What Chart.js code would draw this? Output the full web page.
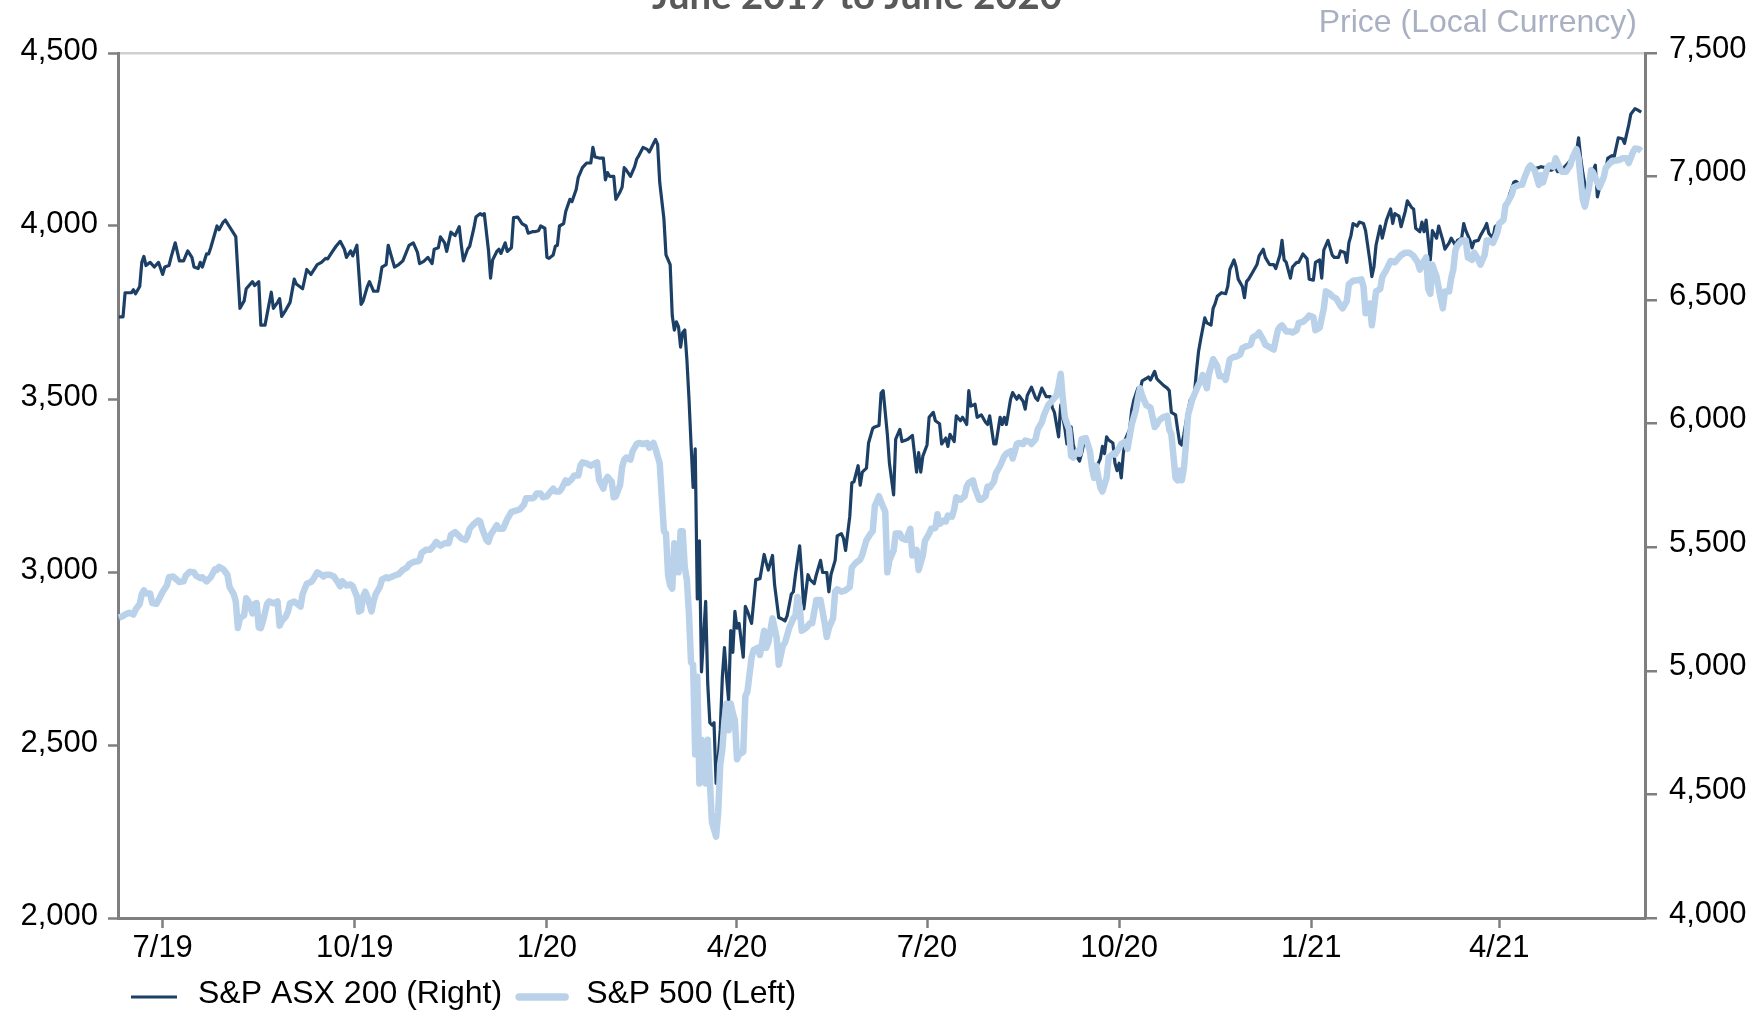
<!DOCTYPE html>
<html>
<head>
<meta charset="utf-8">
<script src="https://cdn.jsdelivr.net/npm/chart.js@4.4.1/dist/chart.umd.min.js"></script>
<style>
  html, body { margin: 0; padding: 0; background: #fff; }
  #wrap { width: 1759px; height: 1010px; }
</style>
</head>
<body>
<div id="wrap"><canvas id="chart" width="1759" height="1010"></canvas></div>
<script>
const title = 'June 2019 to June 2020'
const unitsLabel = 'Price (Local Currency)'

// x values are days counted from startDate
const startDate = '2019-07-01'
const tickDates = ['2019-07-01', '2019-10-01', '2020-01-01', '2020-04-01', '2020-07-01', '2020-10-01', '2021-01-01', '2021-04-01']
const tickLabels = ['7/19', '10/19', '1/20', '4/20', '7/20', '10/20', '1/21', '4/21']

const asxLabel = 'S&P ASX 200 (Right)'
const asxDays = [
  -21, -19, -18, -15, -14, -13, -11, -10, -9, -8, -6, -4, -2, 0, 1, 3, 4, 6, 8, 10,
  12, 14, 15, 17, 18, 19, 21, 22, 23, 26, 27, 29, 30, 32, 35, 37, 39, 40, 43, 44,
  46, 47, 49, 52, 53, 55, 56, 57, 59, 61, 63, 64, 67, 69, 71, 74, 76, 78, 79, 81,
  83, 85, 87, 88, 90, 91, 93, 95, 96, 98, 99, 101, 103, 104, 105, 107, 108, 110, 111, 113,
  115, 118, 120, 122, 123, 125, 127, 129, 130, 132, 133, 135, 136, 138, 140, 142, 143, 144, 146, 147,
  149, 150, 152, 153, 154, 156, 157, 158, 160, 161, 162, 164, 165, 167, 168, 170, 171, 172, 174, 175,
  177, 178, 180, 181, 183, 184, 185, 187, 188, 189, 190, 192, 193, 195, 196, 198, 199, 201, 203, 205,
  206, 207, 209, 211, 212, 213, 214, 216, 217, 219, 220, 221, 222, 224, 226, 227, 228, 230, 232, 233,
  235, 236, 237, 238, 240, 241, 243, 244, 245, 246, 247, 248, 249, 250, 251, 252, 253, 254, 255, 256,
  257, 258, 260, 261, 262, 263, 264, 265, 266, 267, 268, 269, 270, 271, 272, 273, 274, 275, 276, 278,
  279, 280, 282, 284, 286, 288, 289, 290, 292, 293, 295, 296, 298, 299, 301, 302, 303, 305, 306, 307,
  309, 310, 312, 313, 315, 316, 318, 319, 320, 322, 323, 325, 326, 327, 329, 330, 331, 333, 334, 335,
  337, 338, 340, 341, 343, 344, 345, 347, 348, 350, 351, 353, 354, 356, 357, 359, 361, 362, 363, 364,
  366, 367, 369, 370, 372, 373, 375, 376, 377, 379, 380, 382, 383, 385, 386, 387, 389, 390, 392, 394,
  395, 396, 398, 399, 401, 402, 403, 404, 406, 407, 409, 410, 412, 413, 414, 416, 418, 419, 421, 423,
  425, 426, 427, 429, 430, 432, 433, 434, 435, 436, 437, 439, 440, 441, 442, 444, 445, 447, 449, 450,
  451, 452, 453, 455, 456, 457, 458, 459, 460, 461, 463, 464, 465, 467, 468, 469, 471, 472, 473, 475,
  476, 477, 479, 481, 482, 483, 485, 486, 487, 488, 489, 491, 492, 494, 495, 496, 497, 499, 500, 502,
  503, 504, 505, 507, 509, 510, 511, 513, 514, 515, 517, 518, 519, 520, 522, 524, 525, 527, 528, 530,
  532, 533, 535, 536, 537, 538, 540, 541, 543, 544, 546, 548, 549, 551, 552, 554, 555, 556, 558, 560,
  561, 563, 564, 566, 567, 568, 569, 570, 572, 573, 575, 576, 578, 579, 580, 581, 583, 584, 586, 588,
  589, 590, 592, 593, 595, 596, 598, 599, 600, 602, 603, 604, 605, 607, 608, 610, 611, 613, 614, 616,
  617, 619, 620, 622, 623, 624, 626, 627, 628, 630, 631, 633, 634, 635, 637, 638, 640, 642, 643, 645,
  647, 648, 650, 651, 652, 654, 655, 657, 659, 660, 662, 663, 665, 667, 668, 670, 671, 673, 675, 677,
  678, 679, 680, 682, 683, 685, 686, 687, 689, 691, 692, 694, 695, 697, 699, 700, 702, 703, 705, 706,
  708
]
const asxValues = [
  6432, 6432, 6530, 6530, 6542, 6526, 6555, 6653, 6677, 6640, 6653, 6634, 6653, 6604, 6634, 6640, 6673, 6732, 6659, 6659,
  6699, 6673, 6634, 6628, 6653, 6634, 6687, 6687, 6712, 6800, 6785, 6816, 6824, 6797, 6757, 6467, 6497, 6546, 6575, 6559,
  6575, 6399, 6399, 6532, 6467, 6491, 6506, 6434, 6461, 6491, 6585, 6565, 6546, 6624, 6604, 6644, 6653, 6669, 6667, 6693,
  6718, 6738, 6706, 6673, 6699, 6679, 6722, 6483, 6497, 6555, 6575, 6536, 6536, 6581, 6634, 6644, 6722, 6663, 6634, 6644,
  6659, 6722, 6732, 6693, 6648, 6657, 6673, 6648, 6706, 6712, 6756, 6732, 6697, 6775, 6761, 6797, 6722, 6659, 6706, 6718,
  6791, 6836, 6850, 6844, 6850, 6702, 6589, 6663, 6697, 6706, 6689, 6732, 6697, 6712, 6834, 6836, 6824, 6810, 6800, 6771,
  6777, 6777, 6781, 6800, 6791, 6673, 6669, 6683, 6718, 6722, 6800, 6810, 6859, 6908, 6899, 6948, 6997, 7036, 7055, 7055,
  7118, 7079, 7075, 7075, 6987, 7016, 7001, 7001, 6908, 6938, 6957, 7036, 7026, 7001, 7040, 7071, 7085, 7118, 7110, 7099,
  7134, 7150, 7130, 6977, 6830, 6683, 6644, 6438, 6379, 6412, 6393, 6310, 6369, 6379, 6261, 6104, 5918, 5742, 5898, 5291,
  5526, 4996, 5281, 4947, 4790, 4781, 4790, 4545, 4643, 4761, 4977, 5094, 4977, 4879, 5163, 5075, 5241, 5173, 5192, 5055,
  5261, 5242, 5192, 5369, 5373, 5471, 5438, 5408, 5467, 5349, 5216, 5212, 5202, 5222, 5310, 5320, 5389, 5506, 5389, 5251,
  5389, 5369, 5353, 5389, 5447, 5398, 5398, 5320, 5389, 5447, 5546, 5555, 5536, 5487, 5624, 5761, 5765, 5830, 5751, 5804,
  5820, 5922, 5981, 5987, 5993, 6124, 6134, 5957, 5840, 5712, 5938, 5977, 5928, 5934, 5938, 5953, 5804, 5883, 5804, 5869,
  5914, 6026, 6046, 6012, 6000, 5918, 5942, 5908, 5957, 5928, 6032, 6012, 6026, 5997, 6134, 6071, 6079, 6026, 6036, 6006,
  5997, 6032, 5918, 5918, 6026, 5997, 6026, 5997, 6099, 6126, 6099, 6114, 6091, 6059, 6114, 6148, 6104, 6095, 6144, 6110,
  6110, 6065, 6046, 5947, 6075, 5981, 5918, 5977, 5987, 5918, 5879, 5849, 5879, 5918, 5942, 5898, 5840, 5820, 5859, 5908,
  5879, 5947, 5934, 5922, 5840, 5810, 5840, 5781, 5879, 5938, 5977, 6055, 6095, 6144, 6134, 6173, 6183, 6189, 6177, 6212,
  6183, 6173, 6157, 6144, 6134, 6046, 6036, 5977, 5922, 5914, 5957, 6055, 6095, 6118, 6212, 6291, 6340, 6428, 6408, 6399,
  6467, 6487, 6516, 6530, 6526, 6555, 6624, 6663, 6634, 6585, 6555, 6510, 6575, 6585, 6614, 6644, 6679, 6706, 6673, 6644,
  6644, 6628, 6683, 6742, 6663, 6653, 6589, 6634, 6653, 6653, 6687, 6667, 6585, 6581, 6653, 6663, 6589, 6702, 6742, 6683,
  6673, 6673, 6699, 6693, 6653, 6732, 6761, 6810, 6800, 6816, 6810, 6781, 6663, 6595, 6634, 6722, 6800, 6751, 6824, 6869,
  6810, 6850, 6840, 6797, 6859, 6902, 6875, 6869, 6791, 6777, 6816, 6777, 6824, 6663, 6781, 6751, 6800, 6742, 6706, 6732,
  6751, 6722, 6742, 6751, 6810, 6781, 6742, 6712, 6738, 6742, 6761, 6791, 6810, 6771, 6751, 6797, 6810, 6820, 6869, 6928,
  6977, 6981, 6967, 6977, 6997, 7040, 7046, 7032, 7036, 7040, 7036, 7026, 7026, 7036, 7020, 7026, 7036, 7055, 7075, 7099,
  7157, 7075, 7016, 6918, 6957, 7026, 7046, 6918, 6987, 7026, 7075, 7085, 7079, 7157, 7153, 7134, 7208, 7252, 7275, 7271,
  7261
]

const spxLabel = 'S&P 500 (Left)'
const spxDays = [
  -21, -19, -18, -16, -14, -13, -11, -10, -9, -8, -6, -5, -3, -2, 0, 2, 3, 5, 6, 8,
  10, 11, 13, 15, 16, 18, 19, 21, 23, 25, 26, 27, 29, 31, 32, 34, 35, 36, 37, 39,
  40, 41, 43, 44, 45, 46, 47, 48, 50, 51, 53, 55, 56, 57, 59, 60, 61, 63, 64, 66,
  67, 69, 71, 72, 74, 76, 77, 78, 80, 82, 83, 85, 86, 88, 90, 91, 93, 94, 95, 96,
  97, 98, 100, 101, 102, 104, 105, 107, 108, 110, 112, 113, 115, 117, 118, 120, 122, 123, 124, 126,
  128, 130, 131, 133, 135, 137, 138, 140, 142, 143, 145, 146, 147, 149, 151, 152, 153, 155, 156, 157,
  160, 161, 163, 164, 165, 167, 169, 171, 173, 174, 177, 178, 179, 181, 182, 184, 185, 187, 188, 190,
  191, 193, 194, 196, 197, 199, 200, 201, 203, 205, 206, 208, 209, 211, 212, 213, 215, 216, 217, 219,
  220, 221, 222, 224, 225, 227, 228, 230, 232, 233, 235, 236, 238, 239, 240, 241, 242, 243, 244, 245,
  247, 248, 249, 250, 251, 252, 253, 254, 255, 256, 257, 258, 260, 261, 262, 263, 265, 266, 267, 268,
  269, 270, 271, 272, 273, 274, 275, 276, 278, 279, 280, 282, 283, 285, 286, 288, 289, 290, 292, 294,
  295, 297, 298, 300, 302, 303, 304, 305, 306, 308, 310, 311, 313, 315, 317, 318, 319, 321, 322, 323,
  325, 327, 329, 330, 332, 334, 335, 337, 339, 340, 341, 343, 344, 346, 347, 348, 350, 351, 353, 354,
  356, 358, 359, 361, 362, 364, 365, 367, 368, 370, 371, 372, 374, 375, 376, 378, 379, 380, 382, 384,
  385, 386, 388, 389, 391, 392, 394, 395, 396, 398, 399, 401, 403, 404, 406, 407, 409, 410, 412, 413,
  415, 416, 418, 419, 421, 422, 424, 426, 428, 429, 430, 431, 432, 434, 435, 436, 438, 439, 440, 442,
  444, 445, 446, 447, 449, 450, 452, 453, 455, 456, 458, 459, 461, 462, 463, 464, 466, 467, 468, 469,
  471, 473, 475, 476, 477, 479, 481, 482, 483, 485, 486, 487, 488, 489, 490, 491, 493, 494, 496, 497,
  498, 500, 501, 503, 505, 506, 508, 509, 511, 513, 514, 516, 517, 519, 521, 522, 524, 525, 527, 528,
  530, 532, 534, 535, 536, 538, 540, 541, 543, 544, 546, 548, 549, 551, 552, 554, 556, 557, 559, 560,
  562, 564, 565, 567, 568, 570, 572, 574, 575, 576, 578, 579, 580, 581, 583, 584, 586, 588, 590, 591,
  593, 595, 597, 599, 601, 602, 604, 605, 606, 607, 608, 610, 612, 613, 614, 616, 617, 618, 619, 620,
  622, 624, 625, 627, 628, 630, 631, 633, 634, 635, 637, 639, 640, 642, 643, 644, 646, 647, 650, 651,
  652, 654, 655, 657, 659, 660, 661, 663, 664, 666, 667, 669, 670, 672, 674, 675, 677, 678, 679, 680,
  681, 683, 684, 685, 687, 688, 690, 691, 693, 695, 696, 698, 699, 701, 702, 704, 705, 707, 708
]
const spxValues = [
  2868, 2873, 2877, 2882, 2877, 2891, 2908, 2936, 2947, 2938, 2938, 2910, 2908, 2919, 2943, 2961, 2985, 2987, 2982, 2971,
  2973, 2989, 3001, 2999, 2989, 2982, 2985, 2973, 2985, 3008, 3006, 3015, 3008, 2992, 2957, 2936, 2915, 2838, 2866, 2875,
  2924, 2915, 2880, 2908, 2910, 2840, 2838, 2858, 2908, 2915, 2910, 2915, 2845, 2858, 2872, 2886, 2910, 2915, 2910, 2900,
  2936, 2966, 2971, 2978, 2999, 2992, 2987, 2992, 2992, 2987, 2978, 2959, 2973, 2961, 2964, 2959, 2929, 2886, 2889, 2929,
  2943, 2929, 2886, 2915, 2936, 2957, 2978, 2985, 2982, 2987, 2992, 2994, 3006, 3013, 3022, 3029, 3031, 3034, 3055, 3064,
  3064, 3078, 3087, 3076, 3083, 3083, 3107, 3115, 3104, 3097, 3093, 3104, 3125, 3139, 3149, 3146, 3125, 3093, 3087, 3107,
  3135, 3125, 3125, 3139, 3153, 3174, 3177, 3181, 3195, 3213, 3213, 3216, 3227, 3227, 3216, 3219, 3227, 3241, 3233, 3233,
  3241, 3265, 3258, 3269, 3279, 3279, 3307, 3317, 3314, 3307, 3311, 3317, 3265, 3241, 3265, 3275, 3261, 3216, 3219, 3251,
  3303, 3325, 3331, 3325, 3349, 3370, 3373, 3370, 3373, 3359, 3373, 3356, 3314, 3216, 3118, 3111, 2992, 2961, 2952, 3083,
  2999, 3118, 3118, 3013, 2978, 2880, 2739, 2732, 2473, 2697, 2389, 2515, 2389, 2515, 2396, 2277, 2235, 2305, 2445, 2487,
  2571, 2620, 2543, 2620, 2592, 2571, 2459, 2473, 2480, 2641, 2655, 2753, 2775, 2781, 2760, 2830, 2781, 2796, 2866, 2810,
  2732, 2788, 2796, 2838, 2866, 2873, 2928, 2900, 2830, 2838, 2852, 2852, 2919, 2919, 2852, 2812, 2838, 2866, 2943, 2950,
  2943, 2947, 2957, 3013, 3027, 3036, 3050, 3092, 3111, 3118, 3191, 3219, 3202, 3174, 2999, 3034, 3062, 3111, 3111, 3097,
  3093, 3125, 3048, 3064, 3006, 3048, 3090, 3111, 3125, 3127, 3167, 3139, 3149, 3146, 3163, 3160, 3181, 3216, 3209, 3219,
  3247, 3258, 3265, 3241, 3209, 3209, 3219, 3247, 3244, 3261, 3286, 3307, 3335, 3342, 3349, 3328, 3370, 3373, 3370, 3380,
  3377, 3370, 3384, 3412, 3433, 3454, 3482, 3496, 3510, 3538, 3573, 3503, 3447, 3412, 3335, 3331, 3349, 3342, 3384, 3387,
  3349, 3300, 3272, 3307, 3244, 3233, 3272, 3331, 3342, 3339, 3359, 3370, 3377, 3356, 3391, 3426, 3468, 3503, 3531, 3510,
  3482, 3475, 3419, 3426, 3437, 3447, 3451, 3412, 3398, 3272, 3265, 3293, 3265, 3300, 3370, 3454, 3499, 3513, 3541, 3552,
  3569, 3531, 3573, 3615, 3594, 3566, 3566, 3555, 3615, 3622, 3622, 3629, 3647, 3653, 3657, 3678, 3685, 3692, 3671, 3657,
  3650, 3643, 3699, 3709, 3713, 3695, 3695, 3692, 3699, 3720, 3723, 3734, 3741, 3737, 3699, 3706, 3762, 3811, 3804, 3797,
  3790, 3769, 3762, 3783, 3832, 3842, 3843, 3846, 3825, 3748, 3776, 3713, 3762, 3811, 3818, 3853, 3874, 3899, 3895, 3902,
  3916, 3923, 3923, 3913, 3895, 3874, 3899, 3909, 3818, 3804, 3888, 3853, 3790, 3762, 3811, 3811, 3849, 3874, 3930, 3944,
  3958, 3958, 3909, 3902, 3923, 3902, 3888, 3916, 3958, 3958, 3951, 3979, 4007, 4017, 4059, 4068, 4091, 4112, 4119, 4119,
  4138, 4168, 4175, 4161, 4119, 4147, 4126, 4168, 4175, 4171, 4196, 4168, 4157, 4157, 4175, 4196, 4222, 4196, 4133, 4077,
  4056, 4112, 4161, 4154, 4126, 4112, 4140, 4168, 4182, 4189, 4189, 4192, 4196, 4196, 4182, 4213, 4224, 4222, 4217
]

const AXIS = '#7f7f7f'
const NAVY = '#1c3f66'
const LIGHT = '#bad1ea'
const FONT = "'Liberation Sans', Arial, sans-serif"

Chart.defaults.font.family = FONT
Chart.defaults.font.size = 31
Chart.defaults.color = '#000'

const dayOf = s => (Date.parse(s) - Date.parse(startDate)) / 86400000
const tickDays = tickDates.map(dayOf)
const toPoints = (days, values) => days.map((d, i) => ({ x: d, y: values[i] }))
const fmt = v => Number(v).toLocaleString('en-US')

// title (cut off at the top edge), units note and the line legend
const extras = {
  id: 'extras',
  afterDraw (chart) {
    const { ctx } = chart
    ctx.save()

    ctx.font = "bold 100px Lato, 'Open Sans', sans-serif"
    const size = 100 * 410 / ctx.measureText(title).width
    ctx.font = `bold ${size}px Lato, 'Open Sans', sans-serif`
    ctx.fillStyle = '#595959'
    ctx.textAlign = 'center'
    ctx.textBaseline = 'alphabetic'
    ctx.fillText(title, 857, 9)

    ctx.font = `32px ${FONT}`
    ctx.fillStyle = '#a8b0c2'
    ctx.textAlign = 'right'
    ctx.fillText(unitsLabel, 1637, 32)

    ctx.textAlign = 'left'
    ctx.fillStyle = '#000'
    let x = 131
    chart.data.datasets.forEach(ds => {
      ctx.strokeStyle = ds.borderColor
      ctx.lineWidth = ds.legendWidth
      ctx.lineCap = ds.legendWidth > 4 ? 'round' : 'butt'
      ctx.beginPath()
      ctx.moveTo(x, 997)
      ctx.lineTo(x + 46, 997)
      ctx.stroke()
      x += 46 + 21
      ctx.fillText(ds.label, x, 1003)
      x += ctx.measureText(ds.label).width + 17
    })
    ctx.restore()
  }
}

new Chart(document.getElementById('chart'), {
  type: 'line',
  data: {
    datasets: [
      {
        label: asxLabel,
        data: toPoints(asxDays, asxValues),
        yAxisID: 'y1',
        borderColor: NAVY,
        borderWidth: 3.2,
        legendWidth: 3,
        pointRadius: 0,
        borderJoinStyle: 'round',
        order: 1
      },
      {
        label: spxLabel,
        data: toPoints(spxDays, spxValues),
        yAxisID: 'y',
        borderColor: LIGHT,
        borderWidth: 6.5,
        legendWidth: 7.5,
        pointRadius: 0,
        borderJoinStyle: 'round',
        order: 0
      }
    ]
  },
  options: {
    responsive: false,
    animation: false,
    events: [],
    layout: { padding: { top: 53, left: 0, right: 0, bottom: 0 } },
    plugins: { legend: { display: false }, title: { display: false }, tooltip: { enabled: false } },
    scales: {
      x: {
        type: 'linear',
        min: -21.4,
        max: 709.8,
        afterBuildTicks: s => { s.ticks = tickDays.map(v => ({ value: v })) },
        afterFit: s => { s.height = 92 },
        ticks: { autoSkip: false, maxRotation: 0, padding: 2, callback: (v, i) => tickLabels[i] },
        grid: { drawOnChartArea: false, tickLength: 10, tickColor: AXIS, tickWidth: 2.5 },
        border: { color: AXIS, width: 3 }
      },
      y: {
        position: 'left',
        min: 2000,
        max: 4500,
        afterFit: s => { s.width = 118 },
        ticks: { stepSize: 500, padding: 10, labelOffset: -2, callback: fmt },
        grid: { drawOnChartArea: false, tickLength: 10, tickColor: AXIS, tickWidth: 2.5 },
        border: { color: AXIS, width: 3 }
      },
      y1: {
        position: 'right',
        min: 4000,
        max: 7500,
        afterFit: s => { s.width = 114 },
        ticks: { stepSize: 500, padding: 12, labelOffset: -4, callback: fmt },
        grid: {
          drawOnChartArea: true,
          color: c => (c.tick && c.tick.value === 7500 ? '#d0d0d0' : 'rgba(0,0,0,0)'),
          lineWidth: 2.5,
          tickLength: 12,
          tickColor: AXIS,
          tickWidth: 2.5
        },
        border: { color: AXIS, width: 3 }
      }
    }
  },
  plugins: [extras]
})
</script>
</body>
</html>
